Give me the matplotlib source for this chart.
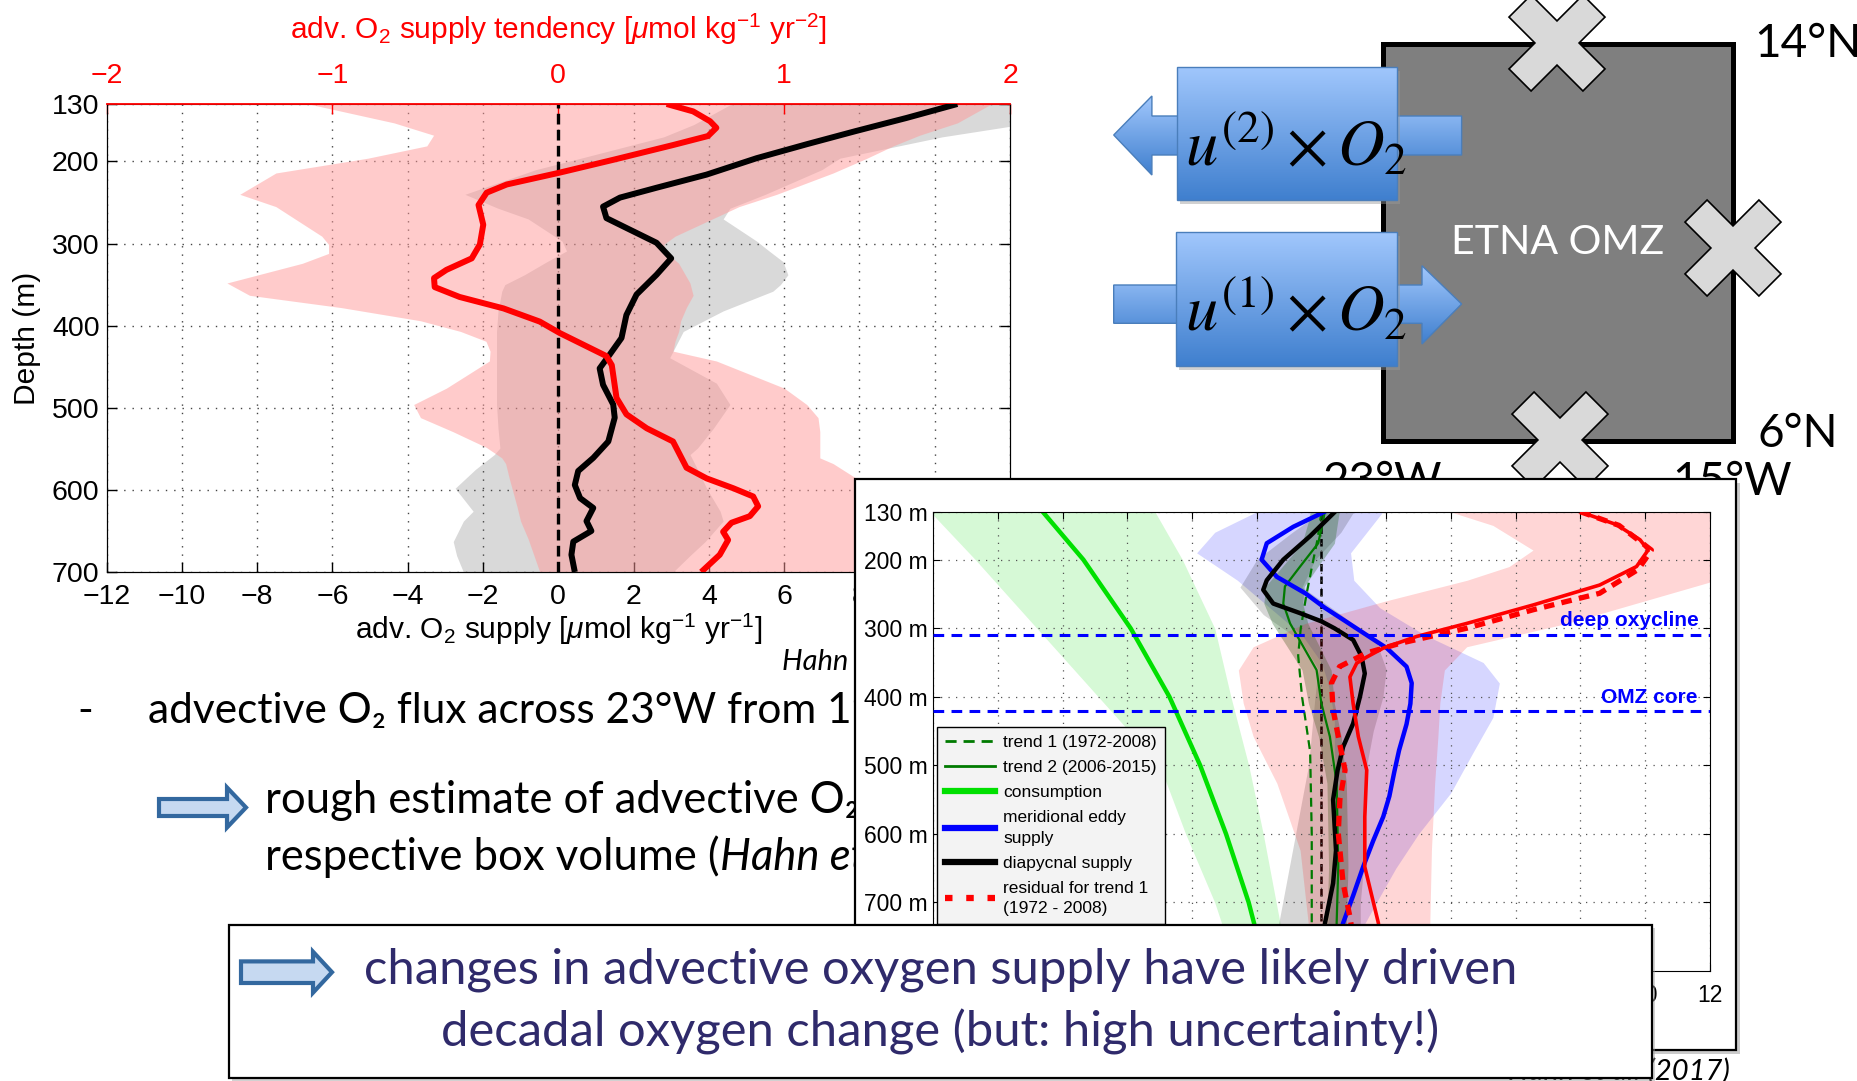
import numpy as np
import matplotlib
matplotlib.use("Agg")
import matplotlib.pyplot as plt
from matplotlib.patches import Rectangle, Polygon
from matplotlib.lines import Line2D

W, H = 1857, 1081
DPI = 100

plt.rcParams.update({
    "font.family": ["Liberation Sans", "DejaVu Sans"],
    "mathtext.fontset": "custom",
    "mathtext.rm": "Liberation Sans",
    "mathtext.it": "Liberation Sans:italic",
    "mathtext.bf": "Liberation Sans:bold",
    "axes.unicode_minus": True,
})
SLIDE_FONT = ["Lato", "DejaVu Sans"]
NAVY = "#2f2a6b"

# ---------------- upper-left profile: advective supply and its tendency ----------------
supply_depth = [130, 147, 163, 179, 196, 216, 232, 244, 255, 269, 283, 299, 318, 338, 362,
                387, 415, 435, 452, 472, 496, 512, 541, 561, 577, 594, 610, 622, 638, 650,
                663, 679, 700]
adv_supply = [10.6, 9.25, 7.9, 6.6, 5.27, 3.94, 2.61, 1.64, 1.19, 1.28, 1.9, 2.61, 3.0, 2.61,
              2.08, 1.81, 1.68, 1.37, 1.1, 1.19, 1.46, 1.5, 1.33, 0.93, 0.53, 0.44, 0.58,
              0.93, 0.75, 0.88, 0.4, 0.35, 0.44]

supply_band_depth = [130, 155, 170, 196, 210, 240, 257, 270, 297, 309, 322, 338, 350, 358, 382,
                     407, 439, 470, 496, 525, 549, 557, 575, 598, 626, 638, 663, 680, 700]
supply_lo = [4.6, 3.6, 2.8, 0.6, -0.6, -2.48, -1.6, -0.8, 0.1, 0.22, -0.3, -0.9, -1.42, -1.5,
             -1.6, -1.64, -1.64, -1.64, -1.64, -1.6, -1.55, -1.7, -2.2, -2.74, -2.26, -2.52,
             -2.79, -2.7, -2.52]
supply_hi = [13.0, 12.3, 10.2, 7.48, 7.0, 5.5, 4.56, 4.38, 5.27, 5.6, 5.97, 6.1, 5.9, 5.7, 4.38,
             3.32, 2.96, 4.2, 4.56, 4.12, 3.7, 3.5, 3.7, 3.94, 4.3, 4.38, 3.9, 3.5, 3.05]

tend_depth = [130, 139, 151, 159, 169, 180, 198, 214, 228, 238, 253, 277, 301, 318, 332, 342,
              353, 365, 379, 395, 409, 423, 437, 448, 488, 508, 525, 541, 557, 573, 586, 598,
              608, 620, 632, 640, 651, 661, 679, 700]
supply_tendency = [0.48, 0.597, 0.672, 0.70, 0.663, 0.508, 0.243, 0.0, -0.228, -0.317, -0.353,
                   -0.332, -0.347, -0.383, -0.495, -0.55, -0.547, -0.437, -0.242, -0.082,
                   0.007, 0.11, 0.213, 0.237, 0.258, 0.302, 0.392, 0.508, 0.538, 0.568, 0.657,
                   0.775, 0.863, 0.885, 0.848, 0.767, 0.73, 0.752, 0.715, 0.633]

tend_band_depth = [130, 153, 168, 181, 196, 214, 240, 255, 291, 301, 312, 324, 348, 363, 378,
                   394, 407, 419, 431, 443, 476, 496, 512, 529, 548, 561, 568, 586, 620, 638,
                   660, 700]
tend_lo = [-1.105, -0.727, -0.552, -0.582, -0.843, -1.25, -1.41, -1.25, -1.047, -1.017, -1.017,
           -1.133, -1.467, -1.367, -0.96, -0.61, -0.433, -0.32, -0.302, -0.305, -0.495, -0.64,
           -0.61, -0.467, -0.32, -0.25, -0.233, -0.217, -0.183, -0.167, -0.133, -0.082]
tend_hi = [1.917, 1.767, 1.6, 1.483, 1.367, 1.217, 0.967, 0.8, 0.517, 0.467, 0.483, 0.533, 0.583,
           0.597, 0.567, 0.542, 0.533, 0.517, 0.508, 0.7, 1.0, 1.1, 1.15, 1.158, 1.158, 1.158,
           1.217, 1.32, 1.5, 1.583, 1.65, 1.717]

main_depth_ticks = [130, 200, 300, 400, 500, 600, 700]

# ---------------- inset: oxygen budget terms ----------------
depth_ticks_m = [130, 200, 300, 400, 500, 600, 700]

cons_depth = [130, 200, 300, 400, 500, 600, 700, 800]
consumption = [-8.62, -7.36, -5.9, -4.7, -3.75, -2.95, -2.25, -1.7]
cons_lo = [-12.1, -10.7, -8.8, -6.9, -5.0, -4.2, -3.3, -2.6]
cons_hi = [-5.15, -4.3, -3.3, -2.8, -2.25, -1.8, -1.4, -1.0]

eddy_depth = [130, 152, 176, 200, 225, 249, 270, 293, 310, 329, 356, 380, 410, 440, 478, 510,
              545, 575, 610, 648, 690, 730, 800]
eddy_supply = [0.1, -0.87, -1.69, -1.85, -1.38, -0.5, 0.1, 0.85, 1.4, 2.02, 2.63, 2.79, 2.75,
               2.63, 2.4, 2.25, 2.1, 1.91, 1.6, 1.29, 0.98, 0.67, 0.25]
eddy_band_depth = [130, 160, 190, 230, 270, 310, 350, 380, 430, 480, 540, 600, 650, 700, 760, 800]
eddy_lo = [-2.0, -3.3, -3.86, -2.6, -1.6, -0.6, 0.0, 0.2, 0.4, 0.4, 0.5, 0.5, 0.4, 0.3, 0.1, 0.0]
eddy_hi = [1.9, 1.4, 0.9, 1.0, 1.8, 3.2, 5.0, 5.5, 5.3, 4.7, 4.0, 3.0, 2.3, 1.7, 1.0, 0.6]

diap_depth = [130, 166, 200, 230, 244, 264, 278, 290, 300, 317, 341, 366, 400, 439, 473, 507,
              550, 624, 672, 730, 800]
diapycnal = [0.42, -0.36, -1.18, -1.69, -1.8, -1.49, -0.66, 0.0, 0.4, 0.98, 1.24, 1.34, 1.19,
             0.98, 0.67, 0.5, 0.36, 0.45, 0.36, 0.11, -0.1]
diap_band_depth = [130, 160, 200, 240, 280, 320, 360, 400, 450, 500, 550, 600, 650, 700, 750, 800]
diap_lo = [0.0, -0.9, -2.0, -2.52, -1.8, -0.6, -0.1, -0.2, -0.3, -0.4, -0.6, -0.8, -1.0, -1.2,
           -1.4, -1.5]
diap_hi = [1.0, 0.6, -0.2, -0.6, 0.6, 1.7, 2.0, 1.9, 1.6, 1.4, 1.3, 1.3, 1.3, 1.2, 1.2, 1.2]

trend1_depth = [130, 170, 200, 250, 300, 340, 400, 480, 600, 730, 800]
trend1 = [0.0, -0.12, -0.25, -0.46, -0.64, -0.72, -0.6, -0.35, -0.3, -0.3, -0.3]

trend2_depth = [130, 142, 176, 210, 239, 264, 293, 327, 361, 410, 458, 526, 648, 730, 800]
trend2 = [0.1, 0.06, -0.1, -0.66, -1.13, -1.18, -0.97, -0.56, -0.15, 0.0, 0.26, 0.47, 0.52,
          0.47, 0.45]
trend2_lo = [-0.35, -0.39, -0.6, -1.21, -1.73, -1.78, -1.52, -1.06, -0.6, -0.4, -0.09, 0.17,
             0.22, 0.17, 0.15]
trend2_hi = [0.55, 0.51, 0.4, -0.11, -0.53, -0.58, -0.42, -0.06, 0.3, 0.4, 0.61, 0.77, 0.82,
             0.77, 0.75]

resid2_depth = [130, 149, 171, 186, 210, 237, 266, 293, 312, 329, 342, 351, 371, 410, 458, 507,
                575, 648, 730, 800]
residual2 = [7.99, 9.13, 9.85, 10.1, 9.74, 8.6, 6.55, 4.49, 2.94, 1.91, 1.4, 1.09, 0.88, 0.98,
             1.14, 1.4, 1.34, 1.34, 1.76, 1.95]
resid1_depth = [130, 150, 186, 214, 249, 273, 300, 322, 336, 356, 380, 419, 458, 507, 550, 599,
                672, 721, 800]
residual1 = [8.0, 9.2, 10.2, 9.8, 8.6, 6.55, 4.49, 2.43, 1.4, 0.56, 0.31, 0.36, 0.52, 0.73,
             0.57, 0.52, 0.67, 0.88, 1.15]
resid_band_depth = [130, 150, 186, 210, 230, 260, 293, 327, 361, 409, 458, 526, 624, 730, 800]
resid_lo = [3.97, 5.3, 6.54, 5.8, 4.5, 2.0, -0.5, -2.11, -2.57, -2.42, -2.11, -1.38, -0.66,
            -0.41, -0.3]
resid_hi = [13, 13, 13, 13, 12.2, 10.0, 7.58, 4.49, 3.8, 3.66, 3.6, 3.5, 3.4, 3.35, 3.3]

oxycline_depth = 310
omz_core_depth = 420

legend_labels = ["trend 1 (1972-2008)", "trend 2 (2006-2015)", "consumption",
                 "meridional eddy\nsupply", "diapycnal supply", "residual for trend 1\n(1972 - 2008)"]


def px_rect(x0, y0, x1, y1):
    """Figure-fraction rectangle from pixel corners (origin top-left)."""
    return [x0 / W, 1 - y1 / H, (x1 - x0) / W, (y1 - y0) / H]


def pixel_axes(z):
    a = fig.add_axes([0, 0, 1, 1], zorder=z)
    a.set_xlim(0, W)
    a.set_ylim(H, 0)
    a.axis("off")
    a.patch.set_visible(False)
    return a


fig = plt.figure(figsize=(W / DPI, H / DPI), dpi=DPI)
fig.patch.set_facecolor("white")

# ============ background slide layer ============
canvas = pixel_axes(0)

# region box
canvas.add_patch(Rectangle((1383, 44), 350, 397, facecolor="#7f7f7f", edgecolor="black",
                           lw=3.6, zorder=1))
canvas.text(1558, 243, "ETNA OMZ", color="white", fontsize=29.5, family=SLIDE_FONT,
            ha="center", va="center", zorder=6)


def cross(cx, cy, half=48, t=0.46):
    u = [(-1, 1 - t), (-1 + t, 1), (0, t), (1 - t, 1), (1, 1 - t), (t, 0), (1, -1 + t),
         (1 - t, -1), (0, -t), (-1 + t, -1), (-1, -1 + t), (-t, 0)]
    return Polygon([(cx + half * a, cy - half * b) for a, b in u], closed=True,
                   facecolor="#d9d9d9", edgecolor="black", lw=1.2, zorder=2)


for c in [(1557, 43), (1733, 248), (1560, 440)]:
    canvas.add_patch(cross(*c))

grad = np.linspace(0, 1, 80)[:, None, None]
top_c = np.array([0.63, 0.78, 0.99])
bot_c = np.array([0.25, 0.50, 0.81])
blue_grad = top_c * (1 - grad) + bot_c * grad


def gradient_patch(poly_pts, z):
    poly = Polygon(poly_pts, closed=True, facecolor="none", edgecolor="#4a7ebb", lw=1.0,
                   zorder=z + 0.1)
    canvas.add_patch(poly)
    xs = [p[0] for p in poly_pts]
    ys = [p[1] for p in poly_pts]
    im = canvas.imshow(blue_grad, extent=(min(xs), max(xs), max(ys), min(ys)), aspect="auto",
                       zorder=z, interpolation="bilinear")
    im.set_clip_path(poly)


# arrows behind the flux boxes
gradient_patch([(1113.7, 135), (1151.9, 96), (1151.9, 116), (1461.6, 116), (1461.6, 155),
                (1151.9, 155), (1151.9, 175)], 3)
gradient_patch([(1113.7, 285), (1422, 285), (1422, 265.7), (1461.6, 304), (1422, 344),
                (1422, 323.3), (1113.7, 323.3)], 3)

for (x0, y0, x1, y1) in [(1176.6, 66.7, 1397, 200), (1175.6, 231.7, 1397, 365.7)]:
    canvas.add_patch(Rectangle((x0 + 3, y0 + 4), x1 - x0, y1 - y0, facecolor="#9a9a9a",
                               edgecolor="none", alpha=0.45, zorder=3.5))
    gradient_patch([(x0, y0), (x1, y0), (x1, y1), (x0, y1)], 4)

canvas.text(1296, 166, r"$u^{(2)}\times O_2$", math_fontfamily="stix", fontsize=46.5,
            ha="center", va="baseline", zorder=6)
canvas.text(1296, 331, r"$u^{(1)}\times O_2$", math_fontfamily="stix", fontsize=46.5,
            ha="center", va="baseline", zorder=6)

for label, x, y in [("14°N", 1754, 57), ("6°N", 1758, 447), ("23°W", 1323, 495),
                    ("15°W", 1672, 495)]:
    canvas.text(x, y, label, fontsize=33, family=SLIDE_FONT, ha="left", va="baseline",
                zorder=6)

# bullet text
canvas.text(77, 723, "-", fontsize=30.5, family=SLIDE_FONT, ha="left", va="baseline")
canvas.text(148, 723, "advective O₂ flux across 23°W from 1972", fontsize=30.5,
            family=SLIDE_FONT, ha="left", va="baseline")


def outline_arrow(x0, x1, xh, yc, shaft_h, head_h):
    pts = [(x0, yc - shaft_h / 2), (xh, yc - shaft_h / 2), (xh, yc - head_h / 2), (x1, yc),
           (xh, yc + head_h / 2), (xh, yc + shaft_h / 2), (x0, yc + shaft_h / 2)]
    return Polygon(pts, closed=True, facecolor="#c6d9f1", edgecolor="#33689f", lw=3.0,
                   joinstyle="miter", zorder=3)


canvas.add_patch(outline_arrow(159, 246, 227, 807.5, 17, 40))
canvas.text(265, 813, "rough estimate of advective O₂ supply", fontsize=31.4,
            family=SLIDE_FONT, ha="left", va="baseline")
t_resp = canvas.text(265, 870, "respective box volume (", fontsize=31.4, family=SLIDE_FONT,
                     ha="left", va="baseline")
canvas.annotate("Hahn et al., 2017)", xy=(1, 0), xycoords=t_resp, fontsize=31.4,
                family=SLIDE_FONT, style="italic", ha="left", va="bottom")
canvas.text(782, 661, "Hahn et al. (2017)", fontsize=21, family=SLIDE_FONT, style="italic",
            ha="left", va="center")
canvas.text(1730, 1058, "Hahn et al. (2017)", fontsize=21, family=SLIDE_FONT, style="italic",
            ha="right", va="top")

# ============ upper-left profile ============
ax = fig.add_axes(px_rect(106.5, 104, 1010, 572), zorder=1)
ax.fill_betweenx(supply_band_depth, supply_lo, supply_hi, color="#d9d9d9", lw=0, zorder=1)
ax.set_xlim(-12, 12)
ax.set_ylim(700, 130)
ax.set_xticks(range(-12, 13, 2))
ax.set_yticks(main_depth_ticks)
ax.grid(True, linestyle=(0, (1, 5)), color="#444444", linewidth=1.0)
ax.tick_params(direction="in", length=7, width=1, top=True, right=True, labelsize=20.5)
ax.tick_params(axis="x", pad=9)
ax.tick_params(axis="y", pad=5)
ax.set_xlabel(r"adv. O$_2$ supply [$\mu$mol kg$^{-1}$ yr$^{-1}$]", fontsize=21.5, labelpad=1)
ax.set_ylabel("Depth (m)", fontsize=21.5, labelpad=8)

ax2 = ax.twiny()
ax2.set_zorder(1.5)
ax2.patch.set_visible(False)
ax2.fill_betweenx(tend_band_depth, tend_lo, tend_hi, color=(1, 0.6, 0.6), alpha=0.5, lw=0,
                  zorder=1)
ax2.axvline(0, color="black", lw=2.4, ls=(0, (3.2, 1.6)), zorder=2)
ax2.plot(adv_supply, supply_depth, color="black", lw=4.3, transform=ax.transData, zorder=3,
         solid_capstyle="butt")
ax2.plot(supply_tendency, tend_depth, color="#ff0000", lw=4.3, zorder=4,
         solid_capstyle="butt")
ax2.set_xlim(-2, 2)
ax2.set_ylim(700, 130)
ax2.set_xticks([-2, -1, 0, 1, 2])
ax2.tick_params(axis="x", direction="in", length=7, width=1, colors="red", labelsize=20.5,
                pad=11)
ax2.spines["top"].set_color("red")
ax2.spines["top"].set_linewidth(1.3)
ax2.set_xlabel(r"adv. O$_2$ supply tendency [$\mu$mol kg$^{-1}$ yr$^{-2}$]", fontsize=21.5,
               color="red", labelpad=17)

# ============ inset frame ============
mid = pixel_axes(3)
mid.add_patch(Rectangle((859, 483), 881, 571, facecolor="#8c8c8c", edgecolor="none",
                        alpha=0.45, zorder=1))
mid.add_patch(Rectangle((855, 479), 881, 571, facecolor="white", edgecolor="black", lw=1.6,
                        zorder=2))

# ============ inset budget chart ============
ins = fig.add_axes(px_rect(933.3, 511.7, 1709.6, 971), zorder=4)
ins.fill_betweenx(cons_depth, cons_lo, cons_hi, color="#00dd00", alpha=0.16, lw=0, zorder=1)
ins.fill_betweenx(eddy_band_depth, eddy_lo, eddy_hi, color="#0000ff", alpha=0.16, lw=0,
                  zorder=1.05)
ins.fill_betweenx(diap_band_depth, diap_lo, diap_hi, color="black", alpha=0.16, lw=0,
                  zorder=1.1)
ins.fill_betweenx(trend2_depth, trend2_lo, trend2_hi, color="#2f6f2f", alpha=0.35, lw=0,
                  zorder=1.15)
ins.axvline(0, color="black", lw=1.8, ls=(0, (3, 2)), zorder=1.2)
ins.fill_betweenx(resid_band_depth, resid_lo, resid_hi, color="#ff0000", alpha=0.16, lw=0,
                  zorder=1.3)

ins.plot(trend1, trend1_depth, color="#007a00", lw=1.6, ls=(0, (4, 2.5)), zorder=2)
ins.plot(trend2, trend2_depth, color="#007a00", lw=1.6, zorder=2.1)
ins.plot(consumption, cons_depth, color="#00e000", lw=3.2, zorder=2.2)
ins.plot(eddy_supply, eddy_depth, color="#0000ff", lw=3.2, zorder=2.3)
ins.plot(diapycnal, diap_depth, color="black", lw=3.2, zorder=2.4)
ins.plot(residual2, resid2_depth, color="#ff0000", lw=2.6, zorder=2.5)
ins.plot(residual1, resid1_depth, color="#ff0000", lw=3.8, ls=(0, (2, 1.4)), zorder=2.6)

for d in (oxycline_depth, omz_core_depth):
    ins.axhline(d, color="#0000ff", lw=2.2, ls=(0, (3.5, 2.4)), zorder=3)
ins.text(11.67, 288, "deep oxycline", color="#0000ff", fontsize=15, fontweight="bold",
         ha="right", va="center", zorder=4)
ins.text(11.64, 401, "OMZ core", color="#0000ff", fontsize=15, fontweight="bold",
         ha="right", va="center", zorder=4)

ins.set_xlim(-12, 12)
ins.set_ylim(800, 130)
ins.set_xticks(range(-12, 13, 2))
ins.set_yticks(depth_ticks_m)
ins.set_yticklabels([f"{d} m" for d in depth_ticks_m])
ins.grid(True, linestyle=(0, (1, 5)), color="#555555", linewidth=0.9)
ins.tick_params(direction="in", length=5, width=0.8, top=True, right=True, labelsize=16.5)
ins.tick_params(axis="y", pad=4)
ins.tick_params(axis="x", pad=9)

handles = [
    Line2D([], [], color="#007a00", lw=2.0, ls=(0, (4, 2.5))),
    Line2D([], [], color="#007a00", lw=2.0),
    Line2D([], [], color="#00e000", lw=4.5),
    Line2D([], [], color="#0000ff", lw=4.5),
    Line2D([], [], color="black", lw=4.5),
    Line2D([], [], color="#ff0000", lw=4.5, ls=(0, (1.2, 2.2))),
]
leg = ins.legend(handles, legend_labels, loc="upper left", bbox_to_anchor=(0.005, 0.532),
                 borderaxespad=0, frameon=True, fancybox=False, edgecolor="black",
                 facecolor="#f3f3f3", framealpha=1, fontsize=12.5, handlelength=2.9,
                 handletextpad=0.45, labelspacing=0.58, borderpad=0.45)
for txt in leg.get_texts():
    txt.set_linespacing(1.45)
leg.get_frame().set_linewidth(1.0)
leg.set_zorder(10)

# ============ conclusion box ============
top = pixel_axes(5)
top.add_patch(Rectangle((231.6, 928), 1423.4, 153, facecolor="#9a9a9a", edgecolor="none",
                        alpha=0.45, zorder=1))
top.add_patch(Rectangle((228.6, 925), 1423.4, 153, facecolor="white", edgecolor="black",
                        lw=1.6, zorder=2))
top.add_patch(outline_arrow(241, 332, 313, 972.2, 21.6, 41))
top.text(940.5, 983.3, "changes in advective oxygen supply have likely driven", color=NAVY,
         fontsize=35.3, family=SLIDE_FONT, ha="center", va="baseline", zorder=4)
top.text(940.5, 1046.7, "decadal oxygen change (but: high uncertainty!)", color=NAVY,
         fontsize=35.3, family=SLIDE_FONT, ha="center", va="baseline", zorder=4)

for a in (canvas, mid, top):
    a.set_xlim(0, W)
    a.set_ylim(H, 0)

fig.savefig("out.png", dpi=DPI, facecolor="white")
